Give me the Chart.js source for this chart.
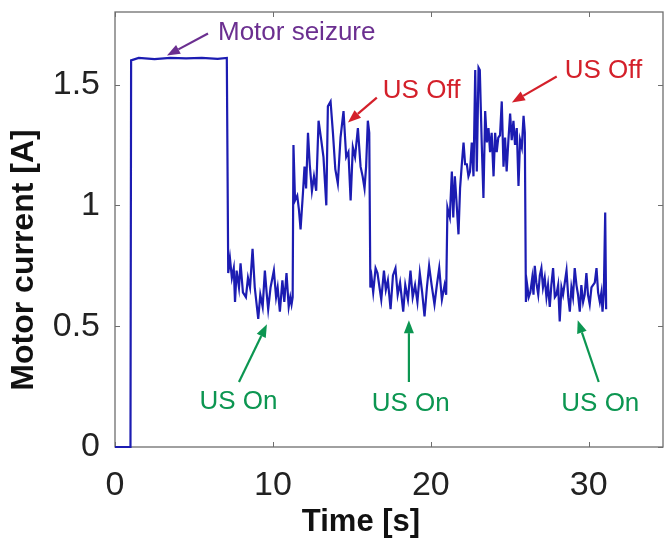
<!DOCTYPE html>
<html>
<head>
<meta charset="utf-8">
<script src="https://cdn.jsdelivr.net/npm/chart.js@4.4.1/dist/chart.umd.min.js"></script>
<style>
  html, body { margin: 0; padding: 0; background: #fff; }
  #wrap { width: 664px; height: 541px; position: relative; }
</style>
</head>
<body>
<div id="wrap"><canvas id="motor-canvas"></canvas></div>
<script>
'use strict';

// motor current trace
const timeS = [
  0, 0.98, 1.02, 1.5, 2.5, 3.5, 4.5, 5.5, 6.5, 7.08,
  7.17, 7.28, 7.40, 7.52, 7.60, 7.70, 7.85, 7.95, 8.10, 8.29, 8.42, 8.55, 8.71, 8.85, 9.07, 9.20,
  9.35, 9.49, 9.60, 9.70, 9.85, 10.06, 10.20, 10.30, 10.44, 10.60, 10.72, 10.86, 11.00, 11.10, 11.18, 11.25,
  11.30, 11.40, 11.54, 11.65, 11.75, 11.90, 12.00, 12.10, 12.22, 12.33, 12.47, 12.60, 12.74, 12.89,
  13.06, 13.20, 13.38, 13.48, 13.65, 13.80, 13.95, 14.11, 14.28, 14.47, 14.64, 14.78, 14.92, 15.06,
  15.20, 15.38, 15.55, 15.68, 15.80, 15.90, 16.01, 16.10,
  16.17, 16.25, 16.35, 16.50, 16.62, 16.75, 16.86, 17.03, 17.15, 17.28, 17.45, 17.60, 17.76, 17.90,
  18.05, 18.25, 18.38, 18.55, 18.71, 18.85, 19.00, 19.15, 19.30, 19.45, 19.60, 19.75, 19.89, 20.05,
  20.23, 20.38, 20.53, 20.70, 20.87, 20.97,
  21.05, 21.12, 21.20, 21.33, 21.42, 21.52, 21.62, 21.75, 21.85, 21.95, 22.07, 22.17, 22.28, 22.38,
  22.48, 22.59, 22.70, 22.81, 22.91, 23.02, 23.10, 23.22, 23.33, 23.44, 23.55, 23.65, 23.75, 23.85,
  23.97, 24.07, 24.17, 24.27, 24.38, 24.49, 24.60, 24.70, 24.80, 24.91, 25.02, 25.12, 25.23, 25.33,
  25.44, 25.55, 25.65, 25.76, 25.87, 25.95,
  26.02, 26.10, 26.20, 26.30, 26.42, 26.50, 26.58, 26.68, 26.80, 26.90, 27.00, 27.10, 27.21, 27.32,
  27.42, 27.53, 27.63, 27.74, 27.85, 27.95, 28.06, 28.16, 28.27, 28.37, 28.48, 28.59, 28.70, 28.80,
  28.90, 29.00, 29.11, 29.22, 29.32, 29.43, 29.53, 29.64, 29.74, 29.85, 29.95, 30.06, 30.17, 30.38,
  30.49, 30.59, 30.70, 30.80, 30.87, 30.95, 31.04, 31.10
];
const currentA = [
  0, 0, 1.60, 1.61, 1.605, 1.61, 1.608, 1.61, 1.606, 1.61,
  0.72, 0.78, 0.70, 0.74, 0.60, 0.73, 0.66, 0.76, 0.64, 0.62, 0.70, 0.66, 0.82, 0.66, 0.53, 0.63,
  0.58, 0.73, 0.64, 0.57, 0.66, 0.73, 0.62, 0.66, 0.56, 0.69, 0.60, 0.72, 0.58, 0.62, 0.59, 0.62,
  1.25, 1.02, 1.04, 0.98, 0.90, 1.05, 1.16, 1.07, 1.30, 1.17, 1.06, 1.12, 1.06, 1.35,
  1.27, 1.20, 1.00, 1.41, 1.43, 1.30, 1.15, 1.09, 1.28, 1.39, 1.20, 1.22, 1.02, 1.24,
  1.20, 1.32, 1.16, 1.12, 1.07, 1.16, 1.35, 1.30,
  0.66, 0.70, 0.64, 0.74, 0.72, 0.66, 0.61, 0.73, 0.65, 0.69, 0.57, 0.71, 0.74, 0.63,
  0.68, 0.56, 0.67, 0.61, 0.73, 0.62, 0.67, 0.60, 0.72, 0.64, 0.54, 0.66, 0.75, 0.67,
  0.59, 0.67, 0.74, 0.61, 0.67, 0.63,
  0.99, 0.97, 0.95, 1.14, 0.95, 1.12, 1.02, 0.88, 1.07, 1.16, 1.26, 1.17, 1.17, 1.12,
  1.14, 1.26, 1.12, 1.56, 1.14, 1.57, 1.56, 1.26, 1.03, 1.39, 1.26, 1.32, 1.22, 1.30,
  1.12, 1.30, 1.22, 1.28, 1.29, 1.43, 1.16, 1.28, 1.14, 1.27, 1.38, 1.27, 1.35, 1.25,
  1.32, 1.08, 1.27, 1.24, 1.37, 1.30,
  0.60, 0.67, 0.62, 0.64, 0.70, 0.63, 0.75, 0.68, 0.63, 0.71, 0.74, 0.66, 0.70, 0.62,
  0.67, 0.58, 0.67, 0.74, 0.62, 0.63, 0.67, 0.52, 0.66, 0.63, 0.68, 0.73, 0.62, 0.56,
  0.66, 0.62, 0.74, 0.67, 0.63, 0.56, 0.67, 0.60, 0.63, 0.72, 0.63, 0.59, 0.66, 0.68,
  0.74, 0.64, 0.60, 0.64, 0.56, 0.63, 0.97, 0.57
];
const xTicks = [0, 10, 20, 30];
const yTicks = [0, 0.5, 1, 1.5];

// annotations in data units: text anchor + arrow tail -> head
const notes = [
  { text: 'Motor seizure', color: '#6b2f90', align: 'left',   tx: 6.52,  ty: 1.715, ax: [5.89, 1.711], ah: [3.29, 1.62] },
  { text: 'US Off',        color: '#d4202a', align: 'left',   tx: 16.96, ty: 1.475, ax: [16.58, 1.446], ah: [14.75, 1.343] },
  { text: 'US Off',        color: '#d4202a', align: 'left',   tx: 28.48, ty: 1.558, ax: [27.97, 1.533], ah: [25.13, 1.426] },
  { text: 'US On',         color: '#0c9651', align: 'center', tx: 7.82,  ty: 0.186, ax: [7.85, 0.269],  ah: [9.62, 0.508] },
  { text: 'US On',         color: '#0c9651', align: 'center', tx: 18.73, ty: 0.178, ax: [18.61, 0.269], ah: [18.61, 0.525] },
  { text: 'US On',         color: '#0c9651', align: 'center', tx: 30.73, ty: 0.178, ax: [30.63, 0.269], ah: [29.30, 0.525] },
];

const FONT = '"Liberation Sans", Arial, Helvetica, sans-serif';

const framePlugin = {
  id: 'frame',
  beforeDatasetsDraw(chart) {
    const { ctx, chartArea: a, scales: { x, y } } = chart;
    ctx.save();
    ctx.strokeStyle = '#6e6e6e';
    ctx.lineWidth = 1.3;
    ctx.strokeRect(a.left, a.top, a.right - a.left, a.bottom - a.top);
    ctx.lineWidth = 1;
    ctx.beginPath();
    xTicks.forEach(v => {
      const px = Math.round(x.getPixelForValue(v)) + 0.5;
      ctx.moveTo(px, a.bottom); ctx.lineTo(px, a.bottom - 5);
      ctx.moveTo(px, a.top); ctx.lineTo(px, a.top + 5);
    });
    yTicks.forEach(v => {
      const py = Math.round(y.getPixelForValue(v)) + 0.5;
      ctx.moveTo(a.left, py); ctx.lineTo(a.left + 5, py);
      ctx.moveTo(a.right, py); ctx.lineTo(a.right - 5, py);
    });
    ctx.stroke();
    ctx.restore();
  },
  afterDraw(chart) {
    const { ctx, scales: { x, y } } = chart;
    ctx.save();
    // axis titles
    ctx.fillStyle = '#111';
    ctx.font = 'bold 31px ' + FONT;
    ctx.textAlign = 'center';
    ctx.textBaseline = 'middle';
    ctx.fillText('Time [s]', 361, 522);
    ctx.translate(24, 260);
    ctx.rotate(-Math.PI / 2);
    ctx.font = 'bold 32px ' + FONT;
    ctx.fillText('Motor current [A]', 0, 0);
    ctx.restore();

    // annotations
    ctx.save();
    notes.forEach(n => {
      const tx = x.getPixelForValue(n.tx), ty = y.getPixelForValue(n.ty);
      ctx.fillStyle = n.color;
      ctx.strokeStyle = n.color;
      ctx.font = '26px ' + FONT;
      ctx.textAlign = n.align;
      ctx.textBaseline = 'middle';
      ctx.fillText(n.text, tx, ty);
      const x0 = x.getPixelForValue(n.ax[0]), y0 = y.getPixelForValue(n.ax[1]);
      const x1 = x.getPixelForValue(n.ah[0]), y1 = y.getPixelForValue(n.ah[1]);
      const ang = Math.atan2(y1 - y0, x1 - x0);
      const hl = 13, hw = 5;
      const bx = x1 - hl * Math.cos(ang), by = y1 - hl * Math.sin(ang);
      ctx.lineWidth = 2.2;
      ctx.beginPath();
      ctx.moveTo(x0, y0); ctx.lineTo(bx, by);
      ctx.stroke();
      ctx.beginPath();
      ctx.moveTo(x1, y1);
      ctx.lineTo(bx + hw * Math.sin(ang), by - hw * Math.cos(ang));
      ctx.lineTo(bx - hw * Math.sin(ang), by + hw * Math.cos(ang));
      ctx.closePath();
      ctx.fill();
    });
    ctx.restore();
  }
};

new Chart(document.getElementById('motor-canvas'), {
  type: 'line',
  data: {
    datasets: [{
      data: timeS.map((t, i) => ({ x: t, y: currentA[i] })),
      borderColor: '#1c1cb2',
      borderWidth: 2.2,
      pointRadius: 0,
      tension: 0,
      fill: false,
      clip: 4
    }]
  },
  options: {
    responsive: true,
    maintainAspectRatio: false,
    animation: false,
    events: [],
    layout: { padding: { top: 12, right: 1, left: 0, bottom: 0 } },
    plugins: { legend: { display: false }, tooltip: { enabled: false } },
    scales: {
      x: {
        type: 'linear', min: 0, max: 34.7,
        afterBuildTicks: s => { s.ticks = xTicks.map(v => ({ value: v })); },
        afterFit: s => { s.height = 94; s.paddingLeft = 0; s.paddingRight = 0; },
        grid: { display: false, drawTicks: false },
        border: { display: false },
        ticks: { color: '#222', font: { family: FONT, size: 34 }, padding: 18, maxRotation: 0,
                 callback: v => String(v) }
      },
      y: {
        type: 'linear', min: 0, max: 1.8,
        afterBuildTicks: s => { s.ticks = yTicks.map(v => ({ value: v })); },
        afterFit: s => { s.width = 115; s.paddingTop = 0; s.paddingBottom = 0; },
        grid: { display: false, drawTicks: false },
        border: { display: false },
        ticks: { color: '#222', font: { family: FONT, size: 34 }, padding: 15,
                 callback: v => String(v) }
      }
    }
  },
  plugins: [framePlugin]
});
</script>
</body>
</html>
